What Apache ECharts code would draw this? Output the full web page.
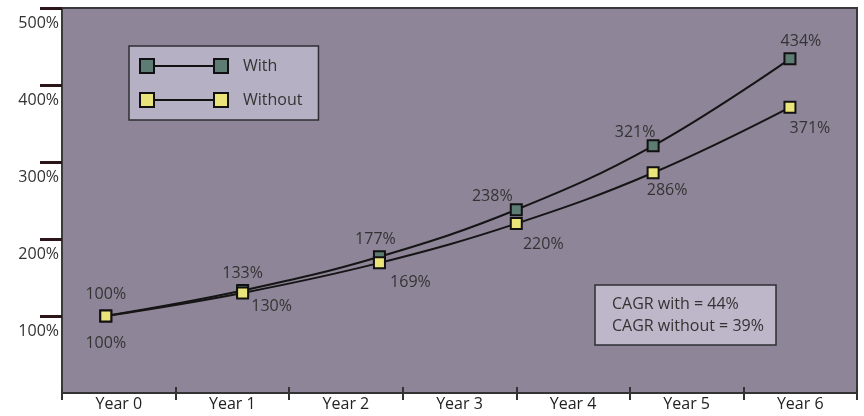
<!DOCTYPE html>
<html>
<head>
<meta charset="utf-8">
<script src="https://cdn.jsdelivr.net/npm/echarts@6/dist/echarts.min.js"></script>
<style>
html,body{margin:0;padding:0;background:#ffffff;}
#chart{width:864px;height:416px;}
</style>
</head>
<body>
<div id="chart"></div>
<script>
// ---- data ----
const years = ['Year 0', 'Year 1', 'Year 2', 'Year 3', 'Year 4', 'Year 5', 'Year 6'];
const periods = [0, 1, 2, 3, 4, 5];
const withValues = [100, 133, 177, 238, 321, 434];
const withoutValues = [100, 130, 169, 220, 286, 371];
const yTickValues = [100, 200, 300, 400, 500];
const seriesNames = ['With', 'Without'];
const cagrLines = ['CAGR with = 44%', 'CAGR without = 39%'];

// ---- styling helpers (not data) ----
const FONT = 'Open Sans';
const withLabelOffsets = [[0, 0], [0, 4], [-4, 4], [-24, 8], [-18, 8], [11, 4]];
const withoutLabelOffsets = [[0, 6], [29, -8], [31, -2], [27, -1], [14, -4], [20, 0]];

function buildData(values, offsets, position) {
  return values.map((v, i) => ({
    value: [periods[i], v],
    label: { position: position, offset: offsets[i] }
  }));
}

const chart = echarts.init(document.getElementById('chart'), null, { renderer: 'canvas' });
const legendPath = 'path://M0,0 L14,0 L14,14 L0,14 Z M74,0 L88,0 L88,14 L74,14 Z M14,7 L74,7';
const labelFmt = p => p.value[1] + '%';

const option = {
  animation: false,
  backgroundColor: '#ffffff',
  grid: {
    left: 62, right: 7, top: 8, bottom: 23,
    show: true,
    backgroundColor: '#8f8599',
    borderColor: '#38383c',
    borderWidth: 2
  },
  legend: {
    orient: 'vertical',
    left: 129, top: 46,
    padding: [12, 16, 12, 10],
    itemGap: 18,
    itemWidth: 88, itemHeight: 14,
    backgroundColor: '#b6b0c4',
    borderColor: '#2e2e33',
    borderWidth: 1.5,
    textStyle: { fontFamily: FONT, fontSize: 16, color: '#333', padding: [0, 0, 0, 10] },
    data: [
      { name: seriesNames[0], icon: legendPath },
      { name: seriesNames[1], icon: legendPath }
    ]
  },
  title: {
    text: cagrLines.join('\n'),
    left: 595, top: 285,
    padding: [8, 12, 8, 17],
    backgroundColor: '#bdb7c9',
    borderColor: '#2e2e33',
    borderWidth: 1.5,
    textStyle: { fontFamily: FONT, fontSize: 16, fontWeight: 'normal', color: '#333', lineHeight: 22 }
  },
  xAxis: [{
    type: 'category',
    data: years,
    boundaryGap: true,
    axisLine: { lineStyle: { color: '#333', width: 2 } },
    axisTick: { show: true, length: 7, lineStyle: { color: '#333', width: 2 } },
    axisLabel: { fontFamily: FONT, fontSize: 16, color: '#222', margin: 3 },
    splitLine: { show: false }
  }, {
    type: 'category',
    data: years,
    position: 'bottom',
    boundaryGap: true,
    axisLine: { show: false },
    axisTick: { show: true, inside: true, length: 6, lineStyle: { color: '#333', width: 2 } },
    axisLabel: { show: false },
    splitLine: { show: false }
  }, {
    type: 'value',
    min: -0.32, max: 5.49,
    show: false
  }],
  yAxis: {
    type: 'value',
    min: 0, max: 500, interval: 100,
    position: 'left',
    axisLine: { show: true, onZero: false, lineStyle: { color: '#3a3a3e', width: 2 } },
    axisTick: {
      show: true, length: 22, customValues: yTickValues,
      lineStyle: { color: '#2c1519', width: 3 }
    },
    axisLabel: {
      customValues: yTickValues,
      formatter: v => v + '%',
      fontFamily: FONT, fontSize: 16, color: '#333',
      verticalAlign: 'top', padding: [7, 0, 0, 0], margin: 3
    },
    splitLine: { show: false }
  },
  series: [{
    name: seriesNames[0],
    type: 'line',
    xAxisIndex: 2,
    smooth: 0.4,
    symbol: 'rect',
    symbolSize: 11,
    z: 3,
    lineStyle: { color: '#151515', width: 2 },
    itemStyle: { color: '#5d7c74', borderColor: '#111', borderWidth: 2 },
    label: { show: true, distance: 7, formatter: labelFmt, fontFamily: FONT, fontSize: 16, color: '#333' },
    data: buildData(withValues, withLabelOffsets, 'top')
  }, {
    name: seriesNames[1],
    type: 'line',
    xAxisIndex: 2,
    smooth: 0.4,
    symbol: 'rect',
    symbolSize: 11,
    z: 4,
    lineStyle: { color: '#151515', width: 2 },
    itemStyle: { color: '#ebe47a', borderColor: '#111', borderWidth: 2 },
    label: { show: true, distance: 7, formatter: labelFmt, fontFamily: FONT, fontSize: 16, color: '#333' },
    data: buildData(withoutValues, withoutLabelOffsets, 'bottom')
  }]
};
chart.setOption(option);
</script>
</body>
</html>
